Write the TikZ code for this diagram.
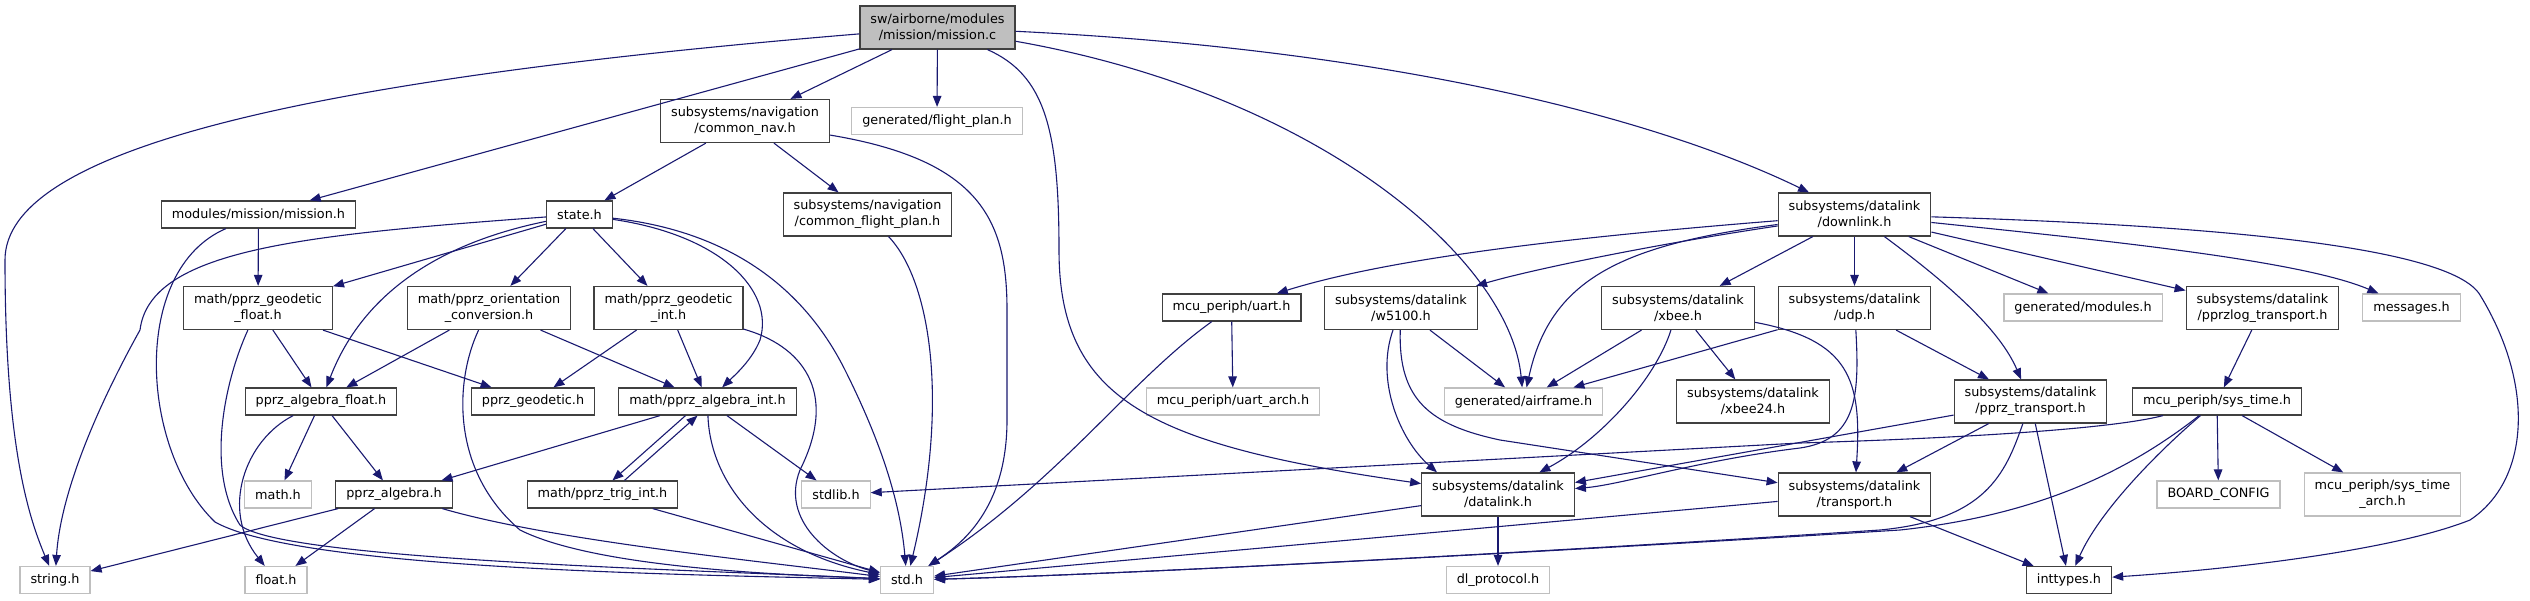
\documentclass[tikz,border=0pt]{standalone}
\usepackage{fontspec}
\setmainfont{DejaVu Sans}
\usepackage{xcolor}
\usetikzlibrary{arrows.meta}
\definecolor{edgeblue}{HTML}{191970}
\definecolor{undocgrey}{HTML}{BFBFBF}

\begin{document}
\begin{tikzpicture}[x=1pt,y=-1pt,
  file/.style={draw,line width=1.2pt,fill=white,align=center,inner xsep=10.5pt,inner ysep=4pt,minimum height=27pt,font=\fontsize{12.8}{16}\selectfont},
  doc/.style={file,draw=black!75},
  undoc/.style={file,draw=undocgrey},
  mainfile/.style={doc,fill=undocgrey},
  dbl/.style={minimum height=43pt},
  incl/.style={draw=edgeblue,line width=1.1pt,-{Triangle[length=11pt,width=8.5pt]}}]
\useasboundingbox (0,0) rectangle (2530,600);
\node[mainfile,dbl] (missionc) at (937.5,27.5) {sw/airborne/modules\\/mission/mission.c};
\node[doc,dbl] (commonnav) at (745,121) {subsystems/navigation\\/common\_nav.h};
\node[undoc] (flightplan) at (937,121) {generated/flight\_plan.h};
\node[doc] (missionh) at (258.5,214.5) {modules/mission/mission.h};
\node[doc] (state) at (579.5,214.5) {state.h};
\node[doc,dbl] (commonfp) at (867.5,214.5) {subsystems/navigation\\/common\_flight\_plan.h};
\node[doc,dbl] (downlink) at (1854.5,214.5) {subsystems/datalink\\/downlink.h};
\node[doc,dbl] (geofloat) at (258,308) {math/pprz\_geodetic\\\_float.h};
\node[doc,dbl] (orient) at (489,308) {math/pprz\_orientation\\\_conversion.h};
\node[doc,dbl] (geoint) at (668.5,308) {math/pprz\_geodetic\\\_int.h};
\node[doc] (uart) at (1231.5,307.5) {mcu\_periph/uart.h};
\node[doc,dbl] (w5100) at (1401,308) {subsystems/datalink\\/w5100.h};
\node[doc,dbl] (xbee) at (1678,308) {subsystems/datalink\\/xbee.h};
\node[doc,dbl] (udp) at (1854.5,308) {subsystems/datalink\\/udp.h};
\node[undoc] (modules) at (2083,307.5) {generated/modules.h};
\node[doc,dbl] (pprzlog) at (2262.5,308) {subsystems/datalink\\/pprzlog\_transport.h};
\node[undoc] (messages) at (2411.5,307.5) {messages.h};
\node[doc] (algfloat) at (321,401.5) {pprz\_algebra\_float.h};
\node[doc] (geodetic) at (533,401.5) {pprz\_geodetic.h};
\node[doc] (algint) at (707.5,401.5) {math/pprz\_algebra\_int.h};
\node[undoc] (uartarch) at (1233,401.5) {mcu\_periph/uart\_arch.h};
\node[undoc] (airframe) at (1523.5,401.5) {generated/airframe.h};
\node[doc,dbl] (xbee24) at (1753,401.5) {subsystems/datalink\\/xbee24.h};
\node[doc,dbl] (pprztr) at (2030.5,401.5) {subsystems/datalink\\/pprz\_transport.h};
\node[doc] (systime) at (2217,401.5) {mcu\_periph/sys\_time.h};
\node[undoc] (mathh) at (278,494.5) {math.h};
\node[doc] (algebra) at (394,494.5) {pprz\_algebra.h};
\node[doc] (trigint) at (602.5,494.5) {math/pprz\_trig\_int.h};
\node[undoc] (stdlib) at (836,494.5) {stdlib.h};
\node[doc,dbl] (datalink) at (1498,494.5) {subsystems/datalink\\/datalink.h};
\node[doc,dbl] (transport) at (1854.5,494.5) {subsystems/datalink\\/transport.h};
\node[undoc] (board) at (2218.5,494.5) {BOARD\_CONFIG};
\node[undoc,dbl] (systimearch) at (2382.5,494.5) {mcu\_periph/sys\_time\\\_arch.h};
\node[undoc] (stringh) at (55,580) {string.h};
\node[undoc] (floath) at (276,580) {float.h};
\node[undoc] (stdh) at (907,580) {std.h};
\node[undoc] (dlproto) at (1498,580) {dl\_protocol.h};
\node[doc] (inttypes) at (2069,580) {inttypes.h};
\draw[incl] (missionc) .. controls (300,80) and (5,150) .. (5,260) .. controls (5,450) and (30,520) .. (stringh);
\draw[incl] (missionc) -- (missionh); \draw[incl] (missionc) -- (commonnav); \draw[incl] (missionc) -- (flightplan);
\draw[incl] (missionc) .. controls (1045,75) and (1059,130) .. (1059,250) .. controls (1059,400) and (1150,445) .. (datalink);
\draw[incl] (missionc) .. controls (1320,95) and (1510,260) .. (airframe);
\draw[incl] (missionc) .. controls (1400,50) and (1660,120) .. (downlink);
\draw[incl] (commonnav) -- (state); \draw[incl] (commonnav) -- (commonfp);
\draw[incl] (commonnav) .. controls (980,160) and (1007,220) .. (1007,310) -- (1007,420) .. controls (1007,510) and (960,545) .. (stdh);
\draw[incl] (commonfp) .. controls (930,280) and (950,400) .. (stdh);
\draw[incl] (missionh) -- (geofloat);
\draw[incl] (missionh) .. controls (130,270) and (140,450) .. (215,522) .. controls (300,570) and (700,575) .. (stdh);
\draw[incl] (state) .. controls (300,235) and (150,250) .. (140,330) .. controls (90,420) and (60,500) .. (stringh);
\draw[incl] (state) -- (geofloat); \draw[incl] (state) -- (orient); \draw[incl] (state) -- (geoint);
\draw[incl] (state) .. controls (430,245) and (360,300) .. (algfloat);
\draw[incl] (state) .. controls (720,235) and (775,290) .. (760,340) .. controls (752,360) and (735,375) .. (algint);
\draw[incl] (state) .. controls (720,230) and (800,280) .. (845,370) .. controls (880,440) and (900,500) .. (stdh);
\draw[incl] (geofloat) -- (algfloat); \draw[incl] (geofloat) -- (geodetic);
\draw[incl] (geofloat) .. controls (225,380) and (205,470) .. (240,525) .. controls (280,560) and (700,570) .. (stdh);
\draw[incl] (orient) -- (algfloat); \draw[incl] (orient) -- (algint);
\draw[incl] (orient) .. controls (455,380) and (450,470) .. (520,530) .. controls (600,570) and (800,575) .. (stdh);
\draw[incl] (geoint) -- (geodetic); \draw[incl] (geoint) -- (algint);
\draw[incl] (geoint) .. controls (800,345) and (840,390) .. (800,470) .. controls (780,520) and (830,560) .. (stdh);
\draw[incl] (algfloat) -- (mathh); \draw[incl] (algfloat) -- (algebra);
\draw[incl] (algfloat) .. controls (245,440) and (220,510) .. (floath);
\draw[incl] (algint) -- (algebra); \draw[incl] (algint) -- (stdlib);
\draw[incl] ([xshift=-22pt]algint.south) -- ([xshift=10pt]trigint.north);
\draw[incl] ([xshift=22pt]trigint.north) -- ([xshift=-10pt]algint.south);
\draw[incl] (algint) .. controls (710,480) and (760,550) .. (stdh);
\draw[incl] (trigint) -- (stdh);
\draw[incl] (algebra) -- (stringh); \draw[incl] (algebra) -- (floath);
\draw[incl] (algebra) .. controls (550,540) and (750,560) .. (stdh);
\draw[incl] (downlink) .. controls (1600,235) and (1400,255) .. (uart);
\draw[incl] (downlink) .. controls (1650,245) and (1530,270) .. (w5100);
\draw[incl] (downlink) .. controls (1620,245) and (1550,280) .. (airframe);
\draw[incl] (downlink) -- (xbee); \draw[incl] (downlink) -- (udp);
\draw[incl] (downlink) .. controls (1950,285) and (2000,330) .. (pprztr);
\draw[incl] (downlink) -- (modules); \draw[incl] (downlink) -- (pprzlog);
\draw[incl] (downlink) .. controls (2100,240) and (2300,260) .. (messages);
\draw[incl] (downlink) .. controls (2200,225) and (2450,245) .. (2480,295) .. controls (2535,385) and (2530,480) .. (2470,520) .. controls (2400,548) and (2250,568) .. (inttypes);
\draw[incl] (uart) -- (uartarch);
\draw[incl] (uart) .. controls (1130,380) and (1060,480) .. (stdh);
\draw[incl] (w5100) -- (airframe);
\draw[incl] (w5100) .. controls (1375,380) and (1400,440) .. ([xshift=16pt]datalink.north west);
\draw[incl] (w5100) .. controls (1398,400) and (1430,425) .. (1500,440) -- (transport);
\draw[incl] (xbee) -- (airframe); \draw[incl] (xbee) -- (xbee24);
\draw[incl] (xbee) .. controls (1655,380) and (1600,440) .. (datalink);
\draw[incl] (xbee) .. controls (1850,340) and (1862,380) .. (transport);
\draw[incl] (udp) -- (airframe); \draw[incl] (udp) -- (pprztr);
\draw[incl] (udp) .. controls (1860,400) and (1855,440) .. (1800,448) .. controls (1700,460) and (1620,485) .. ([yshift=6pt]datalink.east);
\draw[incl] (pprzlog) -- (systime);
\draw[incl] (pprztr) -- ([yshift=12pt]datalink.east); \draw[incl] (pprztr) -- (transport); \draw[incl] (pprztr) -- (inttypes);
\draw[incl] (pprztr) .. controls (2005,475) and (1985,520) .. (1880,530) .. controls (1500,555) and (1100,575) .. (stdh);
\draw[incl] (systime) .. controls (2100,432) and (1900,440) .. (1800,443) -- (stdlib);
\draw[incl] (systime) .. controls (2130,470) and (2040,515) .. (1900,530) .. controls (1500,555) and (1100,575) .. (stdh);
\draw[incl] (systime) .. controls (2160,450) and (2100,510) .. (inttypes);
\draw[incl] (systime) -- (board); \draw[incl] (systime) -- (systimearch);
\draw[incl] (transport) -- (stdh); \draw[incl] (transport) -- (inttypes);
\draw[incl] (datalink) -- (dlproto); \draw[incl] (datalink) -- (stdh);
\end{tikzpicture}
\end{document}
